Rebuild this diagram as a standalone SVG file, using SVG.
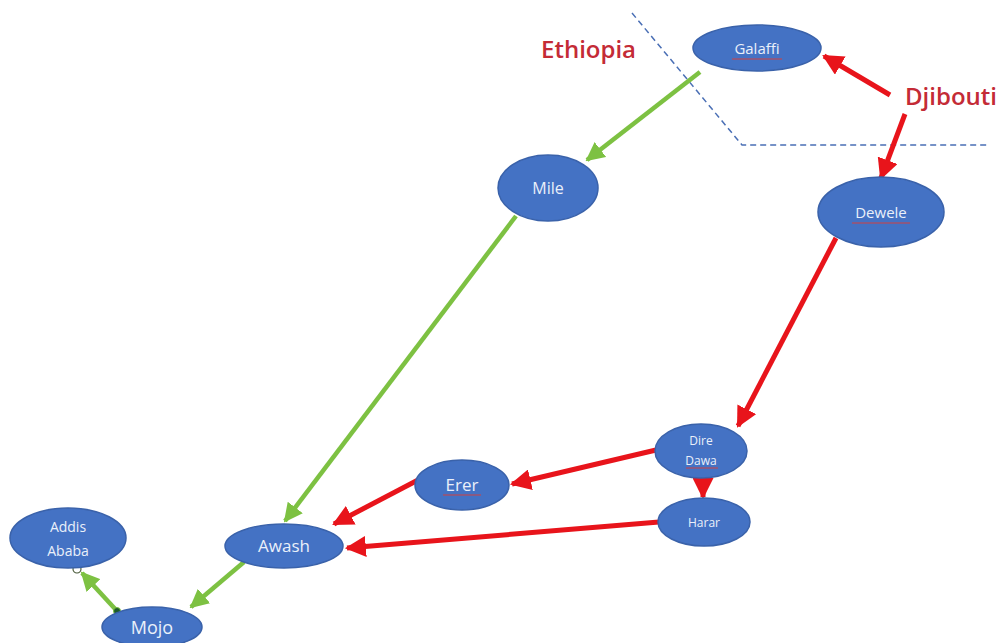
<svg xmlns="http://www.w3.org/2000/svg" width="1008" height="643" viewBox="0 0 1008 643">
<style>
.node ellipse{fill:#4472C4;stroke:#3A62AA;stroke-width:1.5}
.node text{fill:#EAF0FA;font-family:"Open Sans","Liberation Sans",sans-serif;text-anchor:middle}
.g{stroke:#7DC142;stroke-width:4.5;fill:none}
.r{stroke:#E8141B;stroke-width:5;fill:none}
.lbl{fill:#C42B36;font-family:"Open Sans","Liberation Sans",sans-serif;font-size:24px;font-weight:600}
.sq{stroke:#D04040;stroke-width:1;fill:none}
</style>
<defs>
<marker id="ag" viewBox="0 0 10 10" refX="9" refY="5" markerWidth="4.2" markerHeight="4.2" orient="auto" markerUnits="strokeWidth"><path d="M0,0 L10,5 L0,10 z" fill="#7DC142"/></marker>
<marker id="ar" viewBox="0 0 10 10" refX="9" refY="5" markerWidth="4.2" markerHeight="4.2" orient="auto" markerUnits="strokeWidth"><path d="M0,0 L10,5 L0,10 z" fill="#E8141B"/></marker>
</defs>
<rect width="1008" height="643" fill="#fff"/>
<g id="border">
<polyline points="632,13 742,145 990,145" fill="none" stroke="#4A6FB5" stroke-width="1.5" stroke-dasharray="6,4"/>
</g>
<g id="labels">
<text class="lbl" x="541" y="58">Ethiopia</text>
<text class="lbl" x="905" y="105">Djibouti</text>
</g>
<g id="connectors">
<line class="g" x1="700" y1="72" x2="587" y2="160" marker-end="url(#ag)"/>
<line class="g" x1="516" y1="216" x2="285" y2="521" marker-end="url(#ag)"/>
<line class="g" x1="244" y1="562" x2="191" y2="607" marker-end="url(#ag)"/>
<line class="g" x1="117" y1="611" x2="82" y2="573" marker-end="url(#ag)"/>
<circle cx="117" cy="611" r="3.5" fill="#1D5A2A" stroke="#7DC142" stroke-width="1"/>
<circle cx="77" cy="569" r="4" fill="#fff" stroke="#4A5A3A" stroke-width="1.2"/>
<line class="r" x1="890" y1="95" x2="824" y2="56" marker-end="url(#ar)"/>
<line class="r" x1="905" y1="114" x2="881" y2="178" marker-end="url(#ar)"/>
<line class="r" x1="836" y1="238" x2="738" y2="426" marker-end="url(#ar)"/>
<line class="r" x1="656" y1="450" x2="512" y2="484" marker-end="url(#ar)"/>
<line class="r" x1="703" y1="478" x2="703" y2="497" marker-end="url(#ar)"/>
<line class="r" x1="659" y1="522" x2="347" y2="548" marker-end="url(#ar)"/>
<line class="r" x1="418" y1="480" x2="334" y2="524" marker-end="url(#ar)"/>
</g>
<g id="galaffi" class="node"><ellipse cx="757" cy="48" rx="64" ry="23"/><text x="757" y="54" font-size="15">Galaffi</text><path class="sq" d="M732,59 h50"/></g>
<g id="mile" class="node"><ellipse cx="548" cy="188" rx="50" ry="33"/><text x="548" y="194" font-size="16">Mile</text></g>
<g id="dewele" class="node"><ellipse cx="881" cy="212" rx="63" ry="35"/><text x="881" y="218" font-size="15">Dewele</text><path class="sq" d="M852,223 h58"/></g>
<g id="diredawa" class="node"><ellipse cx="701" cy="451" rx="46" ry="27"/><text x="701" y="445" font-size="12">Dire</text><text x="701" y="465" font-size="12">Dawa</text><path class="sq" d="M686,468 h32"/></g>
<g id="erer" class="node"><ellipse cx="462" cy="485" rx="47" ry="25"/><text x="462" y="491" font-size="17">Erer</text><path class="sq" d="M443,495 h38"/></g>
<g id="harar" class="node"><ellipse cx="704" cy="522" rx="46" ry="24"/><text x="704" y="527" font-size="12">Harar</text></g>
<g id="awash" class="node"><ellipse cx="284" cy="546" rx="59" ry="22"/><text x="284" y="552" font-size="17">Awash</text></g>
<g id="addis" class="node"><ellipse cx="68" cy="538" rx="58" ry="30"/><text x="68" y="532" font-size="14">Addis</text><text x="68" y="556" font-size="14">Ababa</text></g>
<g id="mojo" class="node"><ellipse cx="152" cy="627" rx="50" ry="20"/><text x="152" y="634" font-size="18">Mojo</text></g>
</svg>
